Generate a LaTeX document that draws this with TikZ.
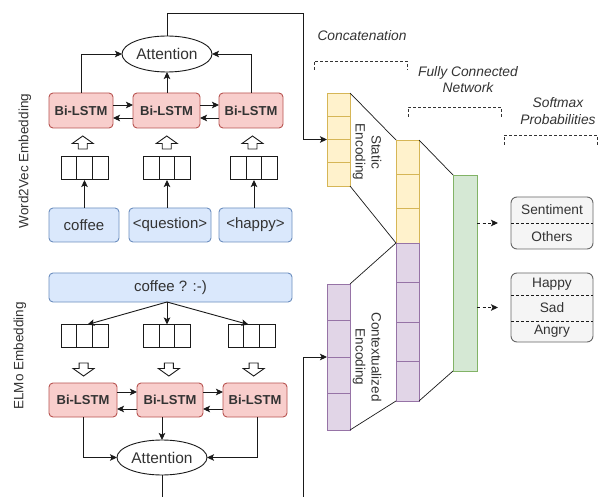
\documentclass[tikz,border=0pt]{standalone}
\usepackage{fontspec}
\setmainfont{Liberation Sans}
\usetikzlibrary{shapes.geometric,arrows.meta,calc}
\definecolor{txt}{HTML}{333333}
\definecolor{linec}{HTML}{1A1A1A}
\definecolor{lstmfill}{HTML}{F8CECC}\definecolor{lstmdraw}{HTML}{B85450}
\definecolor{wfill}{HTML}{DAE8FC}\definecolor{wdraw}{HTML}{6C8EBF}
\definecolor{yfill}{HTML}{FFF2CC}\definecolor{ydraw}{HTML}{D6B656}
\definecolor{pfill}{HTML}{E1D5E7}\definecolor{pdraw}{HTML}{9673A6}
\definecolor{gfill}{HTML}{D5E8D4}\definecolor{gdraw}{HTML}{82B366}
\definecolor{ofill}{HTML}{F5F5F5}\definecolor{odraw}{HTML}{666666}
\tikzset{
  lstm/.style={rectangle, rounded corners=4pt, fill=lstmfill, draw=lstmdraw, line width=0.9pt,
    font=\bfseries\fontsize{13}{15}\selectfont, text=txt, inner sep=0, outer sep=0, minimum height=35},
  word/.style={rectangle, rounded corners=4pt, fill=wfill, draw=wdraw, line width=0.9pt,
    font=\fontsize{15}{17}\selectfont, text=txt, inner sep=0, outer sep=0, minimum height=34},
  att/.style={ellipse, draw=linec, fill=white, line width=0.9pt, inner sep=0, outer sep=0,
    minimum width=90, minimum height=36, font=\fontsize{15.5}{17}\selectfont, text=txt},
  vecb/.style={rectangle, draw=linec, fill=white, line width=1pt, inner sep=0, outer sep=0,
    minimum width=47, minimum height=23},
  vecline/.style={draw=linec, line width=1pt},
  col/.style={rectangle, line width=0.9pt, inner sep=0, outer sep=0, minimum width=23},
  arr/.style={-{Stealth[length=7pt,width=6.5pt,inset=1.5pt]}, line width=0.9pt, draw=linec},
  wire/.style={line width=0.9pt, draw=linec},
  thin/.style={line width=0.7pt, draw=linec},
  darr/.style={-{Stealth[length=7pt,width=6.5pt,inset=1.5pt]}, line width=0.9pt, draw=linec, dash pattern=on 3pt off 2.5pt},
  brk/.style={line width=0.9pt, draw=txt, dash pattern=on 3pt off 2pt},
  lbl/.style={font=\itshape\fontsize{13.8}{16.5}\selectfont, text=txt, align=center, inner sep=0},
  side/.style={font=\fontsize{13.5}{16}\selectfont, text=txt, align=center, inner sep=0},
  obox/.style={rectangle, rounded corners=6pt, fill=ofill, draw=odraw, line width=0.9pt, inner sep=0, outer sep=0, minimum width=82},
  otxt/.style={font=\fontsize{13.7}{16}\selectfont, text=txt, inner sep=0},
  hollow/.style={draw=linec, fill=white, line width=0.9pt, line join=miter},
  hup/.pic={\path[hollow] (-4.5,6.5) -- (-4.5,1) -- (-10.5,1) -- (0,-6.5) -- (10.5,1) -- (4.5,1) -- (4.5,6.5) -- cycle;}
}
\newcommand\vecbox[3]{%
  \node[vecb] (#1) at (#2,#3) {};
  \draw[vecline] ($(#1.north west)!1/3!(#1.north east)$) -- ($(#1.south west)!1/3!(#1.south east)$);
  \draw[vecline] ($(#1.north west)!2/3!(#1.north east)$) -- ($(#1.south west)!2/3!(#1.south east)$);}
\newcommand\celldiv[3]{%
  \draw[line width=0.9pt, draw=#3] ($(#1.north west)!#2!(#1.south west)$) -- ($(#1.north east)!#2!(#1.south east)$);}
\begin{document}
\begin{tikzpicture}[x=1pt,y=-1pt]
\useasboundingbox (0,0) rectangle (600,497);
\fill[white] (0,0) rectangle (600,497);

% ---------- Word2Vec branch ----------
\node[side, rotate=90] (lw2v) at (25,161) {Word2Vec Embedding};
\node[att] (att1) at (167,54) {Attention};
\node[lstm, minimum width=64] (b1) at (81,110.5) {Bi-LSTM};
\node[lstm, minimum width=67] (b2) at (166.5,110.5) {Bi-LSTM};
\node[lstm, minimum width=64] (b3) at (251,110.5) {Bi-LSTM};
\vecbox{v1}{84.5}{168.5}
\vecbox{v2}{167}{168.5}
\vecbox{v3}{254}{168.5}
\node[word, minimum width=70] (w1) at (84,225) {coffee};
\node[word, minimum width=82] (w2) at (170,225) {<question>};
\node[word, minimum width=73] (w3) at (255.5,225) {<happy>};

\draw[arr] (w1.north -| v1.south) -- (v1.south);
\draw[arr] (w2.north -| v2.south) -- (v2.south);
\draw[arr] (w3.north -| v3.south) -- (v3.south);
\pic at ($(v1.north)!0.5!(b1.south)$) {hup};
\pic at ($(v2.north)!0.5!(b2.south)$) {hup};
\pic at ($(v3.north)!0.5!(b3.south)$) {hup};
\draw[arr] ([yshift=5.5pt]b1.east) -- ([yshift=5.5pt]b2.west);
\draw[arr] ([yshift=-7.5pt]b2.west) -- ([yshift=-7.5pt]b1.east);
\draw[arr] ([yshift=5.5pt]b2.east) -- ([yshift=5.5pt]b3.west);
\draw[arr] ([yshift=-7.5pt]b3.west) -- ([yshift=-7.5pt]b2.east);
\draw[arr] (b1.north) |- (att1.west);
\draw[arr] (b3.north) |- (att1.east);
\draw[arr] (b2.north -| att1.south) -- (att1.south);

% ---------- ELMo branch ----------
\node[side, rotate=90] (lelmo) at (20,356) {ELMo Embedding};
\node[word, minimum width=243, minimum height=29] (sent) at (170.5,287.5) {coffee ? :-)};
\vecbox{u1}{84.5}{336}
\vecbox{u2}{167}{336}
\vecbox{u3}{251.5}{336}
\coordinate (ss) at (sent.south -| u2.north);
\draw[arr] (ss) -- ([xshift=3pt]u1.north);
\draw[arr] (ss) -- (u2.north);
\draw[arr] (ss) -- ([xshift=-3pt]u3.north);
\node[lstm, minimum width=68, minimum height=34] (c1) at (83,400) {Bi-LSTM};
\node[lstm, minimum width=66, minimum height=34] (c2) at (170,400) {Bi-LSTM};
\node[lstm, minimum width=64, minimum height=34] (c3) at (255,400) {Bi-LSTM};
\pic[rotate=180] at ($(u1.south)!0.62!(c1.north)$) {hup};
\pic[rotate=180] at ($(u2.south)!0.62!(c2.north)$) {hup};
\pic[rotate=180] at ($(u3.south)!0.62!(c3.north)$) {hup};
\draw[arr] ([yshift=8pt]c1.east) -- ([yshift=8pt]c2.west);
\draw[arr] ([yshift=-9pt]c2.west) -- ([yshift=-9pt]c1.east);
\draw[arr] ([yshift=8pt]c2.east) -- ([yshift=8pt]c3.west);
\draw[arr] ([yshift=-9pt]c3.west) -- ([yshift=-9pt]c2.east);
\node[att, minimum height=35] (att2) at (162,457.5) {Attention};
\draw[arr] (c1.south) |- (att2.west);
\draw[arr] ([xshift=2pt]c3.south) |- (att2.east);
\draw[arr] (c2.south -| att2.north) -- (att2.north);

% ---------- encodings ----------
\node[col, fill=yfill, draw=ydraw, minimum height=93] (st) at (338.5,139.5) {};
\celldiv{st}{0.25}{ydraw}\celldiv{st}{0.5}{ydraw}\celldiv{st}{0.75}{ydraw}
\node[col, fill=pfill, draw=pdraw, minimum height=146] (ctx) at (338.5,357) {};
\celldiv{ctx}{0.25}{pdraw}\celldiv{ctx}{0.5}{pdraw}\celldiv{ctx}{0.75}{pdraw}
\node[col, fill=yfill, draw=ydraw, minimum height=103] (cy) at (407.5,191.5) {};
\celldiv{cy}{0.3333}{ydraw}\celldiv{cy}{0.6667}{ydraw}
\node[col, fill=pfill, draw=pdraw, minimum height=158] (cp) at (407.5,322) {};
\celldiv{cp}{0.25}{pdraw}\celldiv{cp}{0.5}{pdraw}\celldiv{cp}{0.75}{pdraw}
\node[col, fill=gfill, draw=gdraw, minimum width=24, minimum height=196] (fc) at (465,273) {};

\node[side, rotate=-90] (lst) at (367,152) {Static\\Encoding};
\node[side, rotate=-90] (lctx) at (367,357) {Contextualized\\Encoding};

\draw[thin] (st.north east) -- (cy.north west);
\draw[thin] (st.south east) -- (cy.south west);
\draw[thin] (ctx.north east) -- (cp.north west);
\draw[thin] (ctx.south east) -- (cp.south west);
\draw[thin] (cy.north east) -- (fc.north west);
\draw[thin] (cp.south east) -- (fc.south west);

% long wires
\coordinate (t1) at (303,13);
\draw[arr] (att1.north) |- (t1) |- (st.west);
\coordinate (bb1) at (162,497);
\draw[wire] (att2.south) -- (bb1);
\coordinate (bb2) at (303,497);
\draw[arr] (bb2) |- (ctx.west);

% ---------- outputs ----------
\node[obox, minimum height=52] (sbox) at (552,223) {};
\draw[line width=0.9pt, draw=linec, dash pattern=on 3pt off 2pt] (sbox.west) -- (sbox.east);
\node[otxt] (tsent) at (552,209.5) {Sentiment};
\node[otxt] (toth) at (552,237) {Others};
\node[obox, minimum height=69] (ebox) at (552,307.5) {};
\draw[line width=0.9pt, draw=linec, dash pattern=on 3pt off 2pt] ($(ebox.north west)!0.319!(ebox.south west)$) -- ($(ebox.north east)!0.319!(ebox.south east)$);
\draw[line width=0.9pt, draw=linec, dash pattern=on 3pt off 2pt] ($(ebox.north west)!0.696!(ebox.south west)$) -- ($(ebox.north east)!0.696!(ebox.south east)$);
\node[otxt] (thap) at (552,284) {Happy};
\node[otxt] (tsad) at (552,308) {Sad};
\node[otxt] (tang) at (552,331.5) {Angry};
\draw[darr] (fc.east |- sbox.west) -- ([xshift=-13pt]sbox.west);
\draw[darr] (fc.east |- ebox.west) -- ([xshift=-13pt]ebox.west);

% ---------- section labels ----------
\node[lbl] (lcat) at (362,36) {Concatenation};
\coordinate (k1a) at (314,70); \coordinate (k1b) at (407,61);
\draw[brk] (k1a) |- (k1b) -- ++(0,9);
\node[lbl] (lfc) at (468,79.5) {Fully Connected\\Network};
\coordinate (k2a) at (408,117); \coordinate (k2b) at (501,107);
\draw[brk] (k2a) |- (k2b) -- ++(0,10);
\node[lbl] (lsm) at (558,111) {Softmax\\Probabilities};
\coordinate (k3a) at (504,145); \coordinate (k3b) at (597,135);
\draw[brk] (k3a) |- (k3b) -- ++(0,10);
\end{tikzpicture}
\end{document}
